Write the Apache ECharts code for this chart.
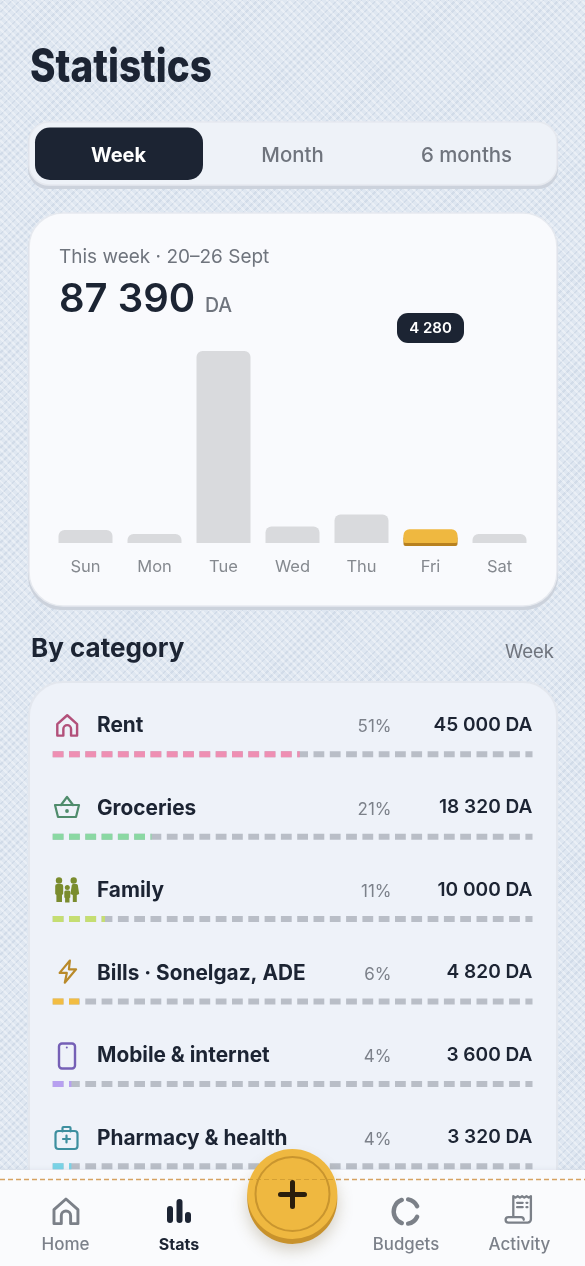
<!DOCTYPE html>
<html><head><meta charset="utf-8">
<style>
html,body{margin:0;padding:0;width:585px;height:1266px;overflow:hidden;background-color:#dfe7f1;
background-image:repeating-linear-gradient(45deg,rgba(255,255,255,.34) 0 2px,transparent 2px 5.6px),repeating-linear-gradient(-45deg,rgba(165,182,205,.24) 0 1.6px,transparent 1.6px 5.6px);}
#c{width:585px;height:1266px}
</style></head><body><div id="c"></div>
<script src="https://cdn.jsdelivr.net/npm/echarts@6/dist/echarts.min.js"></script>
<script>
const days=['Sun','Mon','Tue','Wed','Thu','Fri','Sat'];
const spend=[4040,2800,59500,5120,8850,4280,2800];
const highlightDay='Fri';
const categories=['Rent','Groceries','Family','Bills · Sonelgaz, ADE','Mobile & internet','Pharmacy & health'];
const shares=[51.5,20.6,10.9,5.5,3.9,3.9];
const percentLabels=['51%','21%','11%','6%','4%','4%'];
const amountLabels=['45 000 DA','18 320 DA','10 000 DA','4 820 DA','3 600 DA','3 320 DA'];
const shareColors=['#ee8fb3','#8ad8a3','#c5de72','#f2bd43','#b7a0f0','#7ad3e6'];
const tabs=['Week','Month','6 months'];
const navLabels=['Home','Stats','Budgets','Activity'];

const INK='#1c2433',MUTED='#6f747d',FONT='Inter';
function T(text,x,y,size,weight,fill,align,z,extra){
  return Object.assign({type:'text',x,y,z:z||1,silent:true,style:{text,x:0,y:0,fill,font:weight+' '+size+'px '+FONT,textAlign:align||'left',textVerticalAlign:'middle'}},extra||{});
}
function R(x,y,w,h,r,fill,z,style){
  return {type:'rect',z:z||0,silent:true,shape:{x,y,width:w,height:h,r},style:Object.assign({fill},style||{})};
}
let iconCount=0;
function P(d,x,y,s,style,z){
  const name='icon'+(iconCount++);
  echarts.graphic.registerShape(name,echarts.graphic.extendPath(d,{}));
  return {type:name,z:z||1,silent:true,x,y,scaleX:s,scaleY:s,style:Object.assign({fill:'none',lineCap:'round',lineJoin:'round'},style)};
}
function card(x,y,w,h,r,fill){
  return [R(x-1,y+1,w+2,h+3,r,'#ccd2dc',0),R(x,y,w,h,r,fill,0,{stroke:'#e6e9ef',lineWidth:1.5})];
}
const HOME='M3 21V10.5L12 2.5l9 8V21h-5.5v-6a3.5 3.5 0 0 0-7 0v6z';
const gfx=[];
// title
gfx.push(T('Statistics',30,68,46,800,INK,'left',1,{scaleX:.84}));
// tabs
gfx.push(...card(29,122,528,63,20,'#eef2f8'));
gfx.push(R(35,127.5,168,52.5,15,INK,1));
const tabX=[118.5,292.5,466.5];
tabs.forEach((t,i)=>gfx.push(T(t,tabX[i],156,i?20.4:20,i?500:700,i?MUTED:'#ffffff','center',2)));
// summary card
gfx.push(...card(29,213,528,393,34,'#f9fafd'));
gfx.push(T('This week · 20–26 Sept',59,257,19,400,MUTED));
gfx.push(T('87 390',59,299.5,40,600,INK));
gfx.push(T('DA',205,306,19.5,500,MUTED));
gfx.push(R(397,313,67,30,11,INK,3));
gfx.push(T('4 280',430.5,328.5,15,600,'#ffffff','center',4));
// by category
gfx.push(T('By category',31,649,26,700,INK));
gfx.push(T('Week',554,652,18.5,400,MUTED,'right'));
gfx.push(R(29,682,528,560,34,'#eef2f9',0,{stroke:'#e3e7ee',lineWidth:2}));
const rowY=[726,809,891,974,1056,1139],pctY=[727,809.5,892,974.5,1057,1139.5],amtY=[725,807,890,972,1055,1137];
categories.forEach((c,i)=>{
  gfx.push(T(c,97,rowY[i],20.8,700,INK));
  gfx.push(T(percentLabels[i],391.5,pctY[i],17,400,'#7c818a','right'));
  gfx.push(T(amountLabels[i],532.5,amtY[i],19.1,600,INK,'right'));
});
// category icons
gfx.push(P(HOME,54,712.5,1.1,{stroke:'#b2507a',lineWidth:2.2}));
gfx.push(P('M1 9h24l-3 12H4zM7 9L13 1l6 8',54,796,1,{stroke:'#4f8c6c',lineWidth:2.2}));
gfx.push({type:'circle',z:1,silent:true,shape:{cx:67,cy:811,r:1.9},style:{fill:'#4f8c6c'}});
const OLIVE='#7a8c2e';
[[59,880.5,3.2],[73.7,880.5,3.2],[67.3,887.5,2.5]].forEach(p=>gfx.push({type:'circle',z:1,silent:true,shape:{cx:p[0],cy:p[1],r:p[2]},style:{fill:OLIVE}}));
gfx.push(P('M-4 2a2 2 0 0 1 2-2h4a2 2 0 0 1 2 2v8l-1.2 1V18h-5.6V11L-4 10z',59.2,884,1,{fill:OLIVE}));
gfx.push(P('M-2 0h4a2 2 0 0 1 1.6 1l1.4 9-2.4 1V18h-4V11l-2.4-1 1.4-9a2 2 0 0 1 1.6-1z',74.2,884,1,{fill:OLIVE}));
gfx.push(P('M-1.5 0h3a1.5 1.5 0 0 1 1.5 1.5V7l-.8.5V12h-4.4V7.500L-3 7V1.500A1.500 1.500 0 0 1-1.500 0z',67.3,890.5,1,{fill:OLIVE}));
gfx.push(P('M13.5 1.5L3.5 13.500h7l-2 9.500 11-13h-7z',56,959,1.03,{stroke:'#b98a2a',lineWidth:2.1}));
gfx.push(R(59,1043.5,16,25,3,'none',1,{stroke:'#7560b6',lineWidth:2.4}));
gfx.push({type:'circle',z:1,silent:true,shape:{cx:66.8,cy:1047.5,r:1},style:{fill:'#7560b6'}});
gfx.push(R(55.5,1131,22,18,3,'none',1,{stroke:'#3d8f9f',lineWidth:2.2}));
gfx.push(P('M8 7V3.500a1 1 0 0 1 1-1h6a1 1 0 0 1 1 1V7M12 11v7M8.500 14.500h7',54.5,1124.5,1,{stroke:'#3d8f9f',lineWidth:2.2}));
// nav
const NZ=100;
gfx.push(R(0,1170,585,96,0,'#fafbfd',NZ,{shadowColor:'rgba(120,130,150,.1)',shadowBlur:4,shadowOffsetY:-1}));
gfx.push({type:'line',z:NZ+1,silent:true,shape:{x1:0,y1:1179.5,x2:585,y2:1179.5},style:{stroke:'#d6a262',lineWidth:1.3,lineDash:[5,3]}});
const navX=[65.5,179,406,519.5],navSize=[17,16,16.8,17];
navLabels.forEach((t,i)=>gfx.push(T(t,navX[i],1245,navSize[i],i===1?700:500,i===1?INK:'#7c818a','center',NZ+1)));
const G='#7b8088';
gfx.push(P(HOME,50,1195.7,1.33,{stroke:G,lineWidth:2.2},NZ+1));
[[167,1206,6,17],[176.5,1199,6,24],[185,1212,6,11]].forEach(b=>gfx.push(R(b[0],b[1],b[2],b[3],3,INK,NZ+1)));
[[-80,-25],[25,80],[110,250]].forEach(a=>gfx.push({type:'arc',z:NZ+1,silent:true,shape:{cx:406,cy:1211.5,r:12.3,startAngle:a[0]*Math.PI/180,endAngle:a[1]*Math.PI/180},style:{stroke:G,fill:'none',lineWidth:4.4,lineCap:'round'}}));
gfx.push(P('M8 20V2l2 1.300L12 2l2 1.300L16 2l2 1.300L20 2l2 1.300L24 2v21a3 3 0 0 1-3 3H3.500a2.500 2.500 0 0 1 0-5H15a2.500 2.500 0 0 1 2.500 2.500M11.500 8h5M11.500 12h5M20 8h.8M20 12h.8',504.5,1194,1.1,{stroke:G,lineWidth:2.1},NZ+1));
// coin
gfx.push({type:'circle',z:NZ+2,silent:true,shape:{cx:292.3,cy:1199,r:45},style:{fill:'#c8922c',shadowColor:'rgba(110,90,40,.28)',shadowBlur:16,shadowOffsetY:6}});
gfx.push({type:'circle',z:NZ+3,silent:true,shape:{cx:292.3,cy:1194,r:45},style:{fill:'#efb840'}});
gfx.push({type:'circle',z:NZ+4,silent:true,shape:{cx:292.5,cy:1194,r:37},style:{fill:'none',stroke:'#c9952e',lineWidth:2}});
gfx.push({type:'line',z:NZ+4,silent:true,shape:{x1:248,y1:1179.5,x2:337,y2:1179.5},style:{stroke:'#c9952e',lineWidth:1,lineDash:[5,3],opacity:.7}});
gfx.push(P('M-12 0H12M0 -12V12',292.5,1194.5,1,{stroke:'#2a1e0c',lineWidth:5},NZ+5));

const trackSeries=categories.map(c=>({type:'line',z:3,silent:true,showSymbol:false,animation:false,
  data:[[0,c],[100,c]],lineStyle:{color:'#b9bec7',width:6,type:[10.8,5.5]}}));
const shareSeries=categories.map((c,i)=>({type:'line',z:4,silent:true,showSymbol:false,animation:false,
  data:[[0,c],[shares[i],c]],lineStyle:{color:shareColors[i],width:6,type:[10.8,5.5]}}));

const chart=echarts.init(document.getElementById('c'),null,{width:585,height:1266});
chart.setOption({
  animation:false,backgroundColor:'transparent',
  textStyle:{fontFamily:FONT},
  graphic:{elements:gfx},
  grid:[
    {left:51,width:483,top:351,height:192},
    {left:52.7,width:479.8,top:713.1,height:494.4}
  ],
  xAxis:[
    {gridIndex:0,type:'category',data:days,axisLine:{show:false},axisTick:{show:false},
      axisLabel:{color:'#85898f',fontSize:16.5,margin:15.5,fontFamily:FONT}},
    {gridIndex:1,type:'value',min:0,max:100,show:false}
  ],
  yAxis:[
    {gridIndex:0,type:'value',min:0,max:Math.max(...spend),show:false},
    {gridIndex:1,type:'category',data:categories,inverse:true,show:false}
  ],
  series:[
    {type:'bar',xAxisIndex:0,yAxisIndex:0,z:3,silent:true,barWidth:54,
      data:spend.map((v,i)=>days[i]===highlightDay
        ?{value:v,itemStyle:{color:'#efb840',borderRadius:[6,6,2,2],shadowColor:'#b8811f',shadowBlur:0,shadowOffsetY:3}}
        :{value:v,itemStyle:{color:'#d9dadd',borderRadius:[6,6,0,0]}})},
    ...trackSeries.map(s=>Object.assign(s,{xAxisIndex:1,yAxisIndex:1})),
    ...shareSeries.map(s=>Object.assign(s,{xAxisIndex:1,yAxisIndex:1}))
  ]
});
</script></body></html>
